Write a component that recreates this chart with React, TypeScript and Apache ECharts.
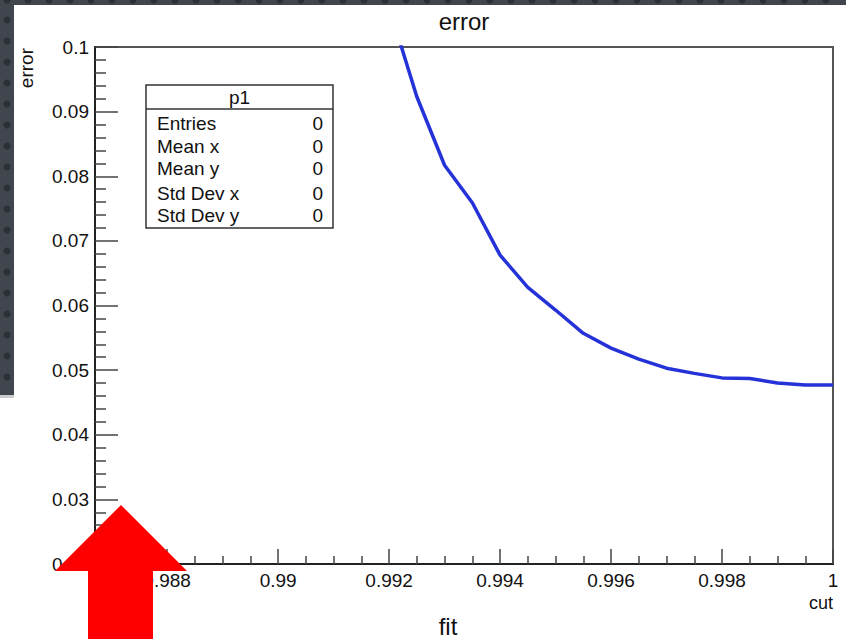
import React, { useEffect, useRef } from "react";
import * as echarts from "echarts";

// ---- data ----
const cutValues = [0.992, 0.9925, 0.993, 0.9935, 0.994, 0.9945, 0.995, 0.9955, 0.996, 0.9965, 0.997, 0.9975, 0.998, 0.9985, 0.999, 0.9995, 1.0];
const errorValues = [0.1062, 0.0923, 0.0817, 0.0759, 0.0678, 0.0628, 0.0593, 0.0557, 0.0534, 0.0517, 0.0503, 0.0495, 0.0488, 0.0487, 0.048, 0.0477, 0.0477];

const xMajorTicks = [0.988, 0.99, 0.992, 0.994, 0.996, 0.998, 1];
const xMinorTicks = [0.987, 0.9875, 0.9885, 0.989, 0.9895, 0.9905, 0.991, 0.9915, 0.9925, 0.993, 0.9935, 0.9945, 0.995, 0.9955, 0.9965, 0.997, 0.9975, 0.9985, 0.999, 0.9995];
const yMin = 0.02;
const yMax = 0.1;
const yInterval = 0.01;
const xMin = 0.9867;
const xMax = 1.0;

const statsTitle = "p1";
const statsNames = ["Entries", "Mean x", "Mean y", "Std Dev x", "Std Dev y"];
const statsValues = [0, 0, 0, 0, 0];

const chartTitle = "error";
const xTitle = "cut";
const yTitle = "error";
const footerText = "fit";

const FONT = "'Liberation Sans', Arial, Helvetica, sans-serif";

function fmt(v: number): string {
  return String(parseFloat(Number(v).toFixed(4)));
}

export default function App() {
  const ref = useRef<HTMLDivElement>(null);
  useEffect(() => {
    if (!ref.current) return;
    const chart = echarts.init(ref.current, null, { renderer: "svg" });

    const graphics: any[] = [];
    // slide background strips
    graphics.push({ type: "rect", shape: { x: 0, y: 0, width: 846, height: 5 }, style: { fill: "#41464e" }, z: 50 });
    graphics.push({ type: "rect", shape: { x: 0, y: 0, width: 14, height: 395 }, style: { fill: "#41464e" }, z: 50 });
    graphics.push({ type: "rect", shape: { x: 0, y: 395, width: 14, height: 3 }, style: { fill: "#c9cbce" }, z: 50 });
    for (let x = 7; x < 846; x += 21) {
      graphics.push({ type: "circle", shape: { cx: x, cy: 0, r: 3.5 }, style: { fill: "#2c3036" }, z: 51 });
    }
    for (let y = 20; y < 392; y += 21) {
      graphics.push({ type: "circle", shape: { cx: 7, cy: y, r: 3.5 }, style: { fill: "#2c3036" }, z: 51 });
    }
    // titles
    graphics.push({ type: "text", x: 464, y: 21, style: { text: chartTitle, font: `24px ${FONT}`, fill: "#111", align: "center", verticalAlign: "middle" }, z: 20 });
    graphics.push({ type: "text", x: 833, y: 603, style: { text: xTitle, font: `18px ${FONT}`, fill: "#111", align: "right", verticalAlign: "middle" }, z: 20 });
    graphics.push({ type: "text", x: 26, y: 48, rotation: Math.PI / 2, style: { text: yTitle, font: `19px ${FONT}`, fill: "#111", align: "right", verticalAlign: "middle" }, z: 20 });
    graphics.push({ type: "text", x: 448, y: 626, style: { text: footerText, font: `24px ${FONT}`, fill: "#111", align: "center", verticalAlign: "middle" }, z: 20 });

    // stats box
    const bx = 146, by = 85, bw = 187, bh = 143;
    graphics.push({ type: "rect", shape: { x: bx, y: by, width: bw, height: bh }, style: { fill: "#fff", stroke: "#333", lineWidth: 1.5 }, z: 30 });
    graphics.push({ type: "line", shape: { x1: bx, y1: 109, x2: bx + bw, y2: 109 }, style: { stroke: "#333", lineWidth: 1.5 }, z: 31 });
    graphics.push({ type: "text", x: bx + bw / 2, y: 97, style: { text: statsTitle, font: `19px ${FONT}`, fill: "#111", align: "center", verticalAlign: "middle" }, z: 31 });
    const rowYs = [123, 146, 168, 193, 215];
    statsNames.forEach((n, i) => {
      graphics.push({ type: "text", x: 157, y: rowYs[i], style: { text: n, font: `19px ${FONT}`, fill: "#111", align: "left", verticalAlign: "middle" }, z: 31 });
      graphics.push({ type: "text", x: 323, y: rowYs[i], style: { text: String(statsValues[i]), font: `19px ${FONT}`, fill: "#111", align: "right", verticalAlign: "middle" }, z: 31 });
    });

    // red arrow
    graphics.push({
      type: "polygon",
      shape: { points: [[121, 505], [187, 571], [153, 571], [153, 639], [88, 639], [88, 571], [55, 571]] },
      style: { fill: "#ff0000" },
      z: 100,
    });

    const axisText = { color: "#111", fontSize: 19, fontFamily: FONT };

    chart.setOption({
      animation: false,
      backgroundColor: "#ffffff",
      grid: {
        left: 95,
        right: 13,
        top: 47,
        bottom: 75,
        show: true,
        borderColor: "#555",
        borderWidth: 2,
        backgroundColor: "transparent",
        containLabel: false,
        outerBoundsMode: "none",
      },
      xAxis: [
        {
          type: "value",
          min: xMin,
          max: xMax,
          position: "bottom",
          axisLine: { show: true, onZero: false, lineStyle: { color: "#222", width: 2 } },
          axisTick: { show: true, inside: true, length: 15, customValues: xMajorTicks, lineStyle: { color: "#444", width: 1.5 } },
          axisLabel: { show: true, customValues: xMajorTicks, margin: 7, formatter: (v: number) => fmt(v), ...axisText },
          splitLine: { show: false },
        },
        {
          type: "value",
          min: xMin,
          max: xMax,
          position: "bottom",
          axisLine: { show: false, onZero: false },
          axisTick: { show: true, inside: true, length: 8, customValues: xMinorTicks, lineStyle: { color: "#444", width: 1.5 } },
          axisLabel: { show: false },
          splitLine: { show: false },
        },
      ],
      yAxis: {
        type: "value",
        min: yMin,
        max: yMax,
        interval: yInterval,
        axisLine: { show: true, onZero: false, lineStyle: { color: "#222", width: 2 } },
        axisTick: { show: true, inside: true, length: 23, lineStyle: { color: "#444", width: 1.5 } },
        minorTick: { show: true, splitNumber: 5, length: 11, lineStyle: { color: "#444", width: 1.5 } },
        axisLabel: { show: true, margin: 6, formatter: (v: number) => fmt(v), ...axisText },
        splitLine: { show: false },
        minorSplitLine: { show: false },
      },
      series: [
        {
          type: "line",
          xAxisIndex: 0,
          data: cutValues.map((c, i) => [c, errorValues[i]]),
          showSymbol: false,
          clip: true,
          lineStyle: { color: "#2432d8", width: 3.5 },
          itemStyle: { color: "#2432d8" },
          z: 5,
        },
      ],
      graphic: graphics,
    });
    return () => chart.dispose();
  }, []);
  return <div ref={ref} style={{ position: "fixed", left: 0, top: 0, width: 846, height: 639 }} />;
}
